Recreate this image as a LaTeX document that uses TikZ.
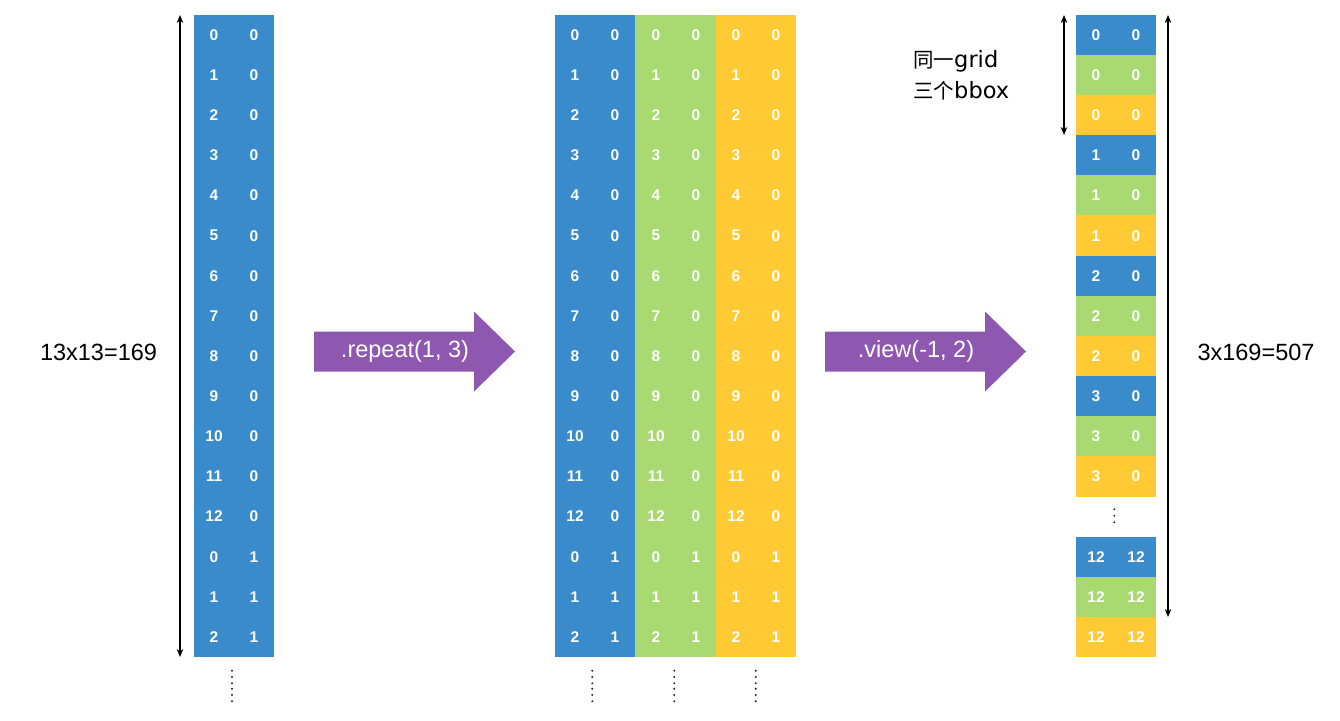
\documentclass[tikz,border=0pt]{standalone}
\usepackage{fontspec}
\setmainfont{Liberation Sans}
\newfontfamily\cjk{Noto Sans CJK SC}
\newfontfamily\dvs{DejaVu Sans}
\usetikzlibrary{arrows.meta}
\definecolor{cblue}{HTML}{3A8BCB}
\definecolor{cgreen}{HTML}{A9D971}
\definecolor{cyellow}{HTML}{FFCA33}
\definecolor{cpurple}{HTML}{8E58B0}
\begin{document}
\begin{tikzpicture}[x=1pt,y=-1pt,
  cell/.style={minimum width=80.6pt, minimum height=40.4pt, inner sep=0pt, outer sep=0pt, draw=none},
  num/.style={text=white, inner sep=0pt, font=\fontsize{15.5}{15.5}\selectfont\bfseries},
  lbl/.style={inner sep=0pt, font=\fontsize{23.5}{23.5}\selectfont},
  arrtxt/.style={inner sep=0pt, text=white, font=\fontsize{23.5}{23.5}\selectfont},
  dbl/.style={line width=1.4pt, {Stealth[length=8pt,width=6.5pt]}-{Stealth[length=8pt,width=6.5pt]}},
  dotc/.style={fill=black!85, draw=none}]
\useasboundingbox (0,0) rectangle (1340,720);
\def\rh{40.125}
% ---------- left and middle columns ----------
\foreach \i/\a/\b in {0/0/0,1/1/0,2/2/0,3/3/0,4/4/0,5/5/0,6/6/0,7/7/0,8/8/0,9/9/0,10/10/0,11/11/0,12/12/0,13/0/1,14/1/1,15/2/1}{
  \pgfmathsetmacro{\yy}{15+\rh*(\i+0.5)}
  \node[cell, fill=cblue] (L\i) at (234,\yy) {};
  \node[num] (La\i) at (214,\yy) {\a};
  \node[num] (Lb\i) at (254,\yy) {\b};
  \node[cell, fill=cblue] (MB\i) at (595.2,\yy) {};
  \node[cell, fill=cgreen] (MG\i) at (675.6,\yy) {};
  \node[cell, fill=cyellow] (MY\i) at (756,\yy) {};
  \node[num] (MBa\i) at (575,\yy) {\a};
  \node[num] (MBb\i) at (615,\yy) {\b};
  \node[num] (MGa\i) at (656,\yy) {\a};
  \node[num] (MGb\i) at (696,\yy) {\b};
  \node[num] (MYa\i) at (736,\yy) {\a};
  \node[num] (MYb\i) at (776,\yy) {\b};
}
% ---------- right column ----------
\foreach \i/\a/\c in {0/0/cblue,1/0/cgreen,2/0/cyellow,3/1/cblue,4/1/cgreen,5/1/cyellow,6/2/cblue,7/2/cgreen,8/2/cyellow,9/3/cblue,10/3/cgreen,11/3/cyellow}{
  \pgfmathsetmacro{\yy}{15+\rh*(\i+0.5)}
  \node[cell, fill=\c] (R\i) at (1116,\yy) {};
  \node[num] (Ra\i) at (1096,\yy) {\a};
  \node[num] (Rb\i) at (1136,\yy) {0};
}
\foreach \i/\c in {0/cblue,1/cgreen,2/cyellow}{
  \pgfmathsetmacro{\yy}{536.9+\rh*(\i+0.5)}
  \node[cell, fill=\c] (RE\i) at (1116,\yy) {};
  \node[num] (REa\i) at (1096,\yy) {12};
  \node[num] (REb\i) at (1136,\yy) {12};
}
% ---------- double arrows ----------
\coordinate (la1) at (180,15);
\coordinate (la2) at (180,657);
\draw[dbl] (la1) -- (la2);
\coordinate (ra1) at (1064,15);
\coordinate (ra2) at (1064,135);
\draw[dbl] (ra1) -- (ra2);
\coordinate (rb1) at (1168,15);
\coordinate (rb2) at (1168,617);
\draw[dbl] (rb1) -- (rb2);
% ---------- labels ----------
\node[lbl] (lab1) at (98.5,352) {13x13=169};
\node[lbl] (lab2) at (1256,352) {3x169=507};
\node[inner sep=0pt, anchor=west, align=left, font=\cjk\fontsize{20.5}{31}\selectfont] (lab3) at (913,75) {同一{\dvs\fontsize{22.5}{31}\selectfont grid}\\三个{\dvs\fontsize{22.5}{31}\selectfont bbox}};
% ---------- block arrows ----------
\fill[cpurple] (314,331.5) -- (474,331.5) -- (474,311.5) -- (515,351.5) -- (474,391.5) -- (474,371.5) -- (314,371.5) -- cycle;
\node[arrtxt] (t1) at (405,351.5) {.repeat(1, 3)};
\fill[cpurple] (825,331.5) -- (985,331.5) -- (985,311.5) -- (1026,351.5) -- (985,391.5) -- (985,371.5) -- (825,371.5) -- cycle;
\node[arrtxt] (t2) at (916,351.5) {.view(-1, 2)};
% ---------- dots ----------
\foreach \x in {232,592.3,674.3,755.7}{
  \foreach \y in {670.7,677,683.3,688.7,695,701.3}{
    \fill[dotc] (\x,\y) circle (1.1);
  }
}
\foreach \y in {509.3,515.7,522.3}{
  \fill[dotc] (1114.3,\y) circle (1.1);
}
\end{tikzpicture}
\end{document}
